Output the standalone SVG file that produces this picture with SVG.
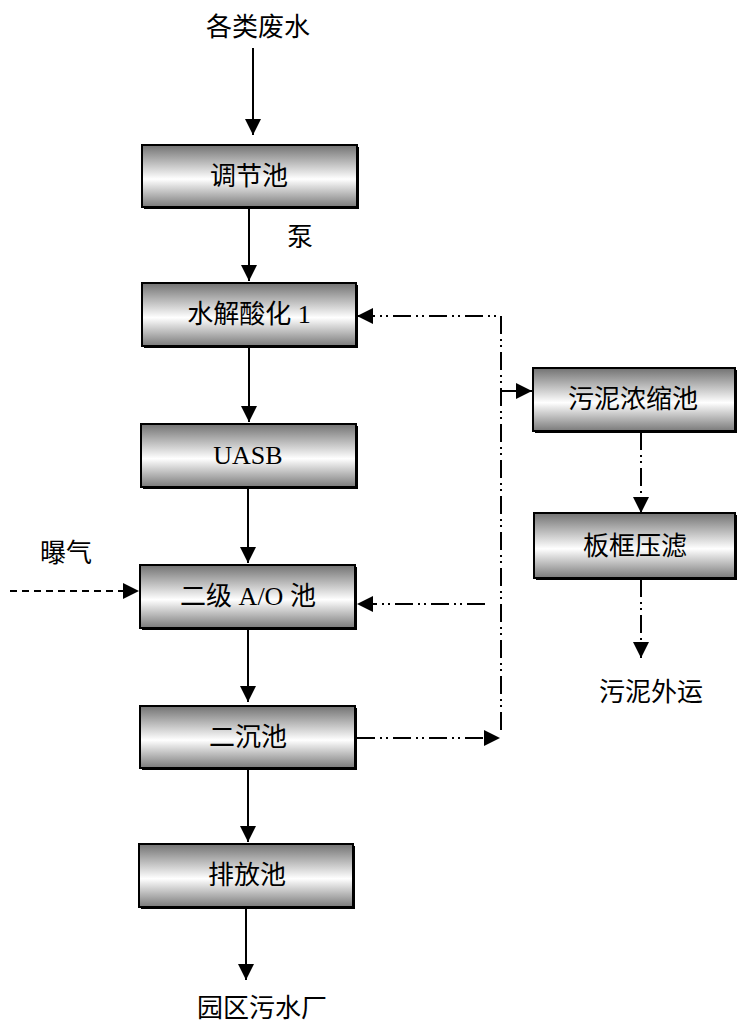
<svg xmlns="http://www.w3.org/2000/svg" width="737" height="1026" viewBox="0 0 737 1026">
<style>
.box{fill:url(#g);stroke:#000;stroke-width:2}
.sh{fill:#000}
.t{font-family:"Liberation Serif","Noto Sans CJK SC",serif;font-size:26px;fill:#000;text-anchor:middle;dominant-baseline:central}
.ln{stroke:#000;stroke-width:2;fill:none}
.dd{stroke:#000;stroke-width:2;fill:none;stroke-dasharray:18 5 2 4 2 5}
.da{stroke:#000;stroke-width:2;fill:none;stroke-dasharray:7 5}
</style>
<defs>
<linearGradient id="g" x1="0" y1="0" x2="0" y2="1">
<stop offset="0" stop-color="#727272"/>
<stop offset="0.55" stop-color="#ffffff"/>
<stop offset="1" stop-color="#7a7a7a"/>
</linearGradient>
<marker id="a" markerUnits="userSpaceOnUse" markerWidth="16" markerHeight="16" viewBox="0 0 16 16" refX="16" refY="8" orient="auto">
<path d="M0,0 L16,8 L0,16 z" fill="#000"/>
</marker>
</defs>

<g id="n-src"><text class="t" x="258" y="27">各类废水</text></g>
<g id="n-tjc"><rect class="sh" x="144" y="147" width="215" height="62"/><rect class="box" x="142" y="145" width="215" height="62"/><text class="t" x="249" y="176">调节池</text></g>
<g id="n-pump"><text class="t" x="300" y="237">泵</text></g>
<g id="n-sj"><rect class="sh" x="144" y="285" width="214" height="63"/><rect class="box" x="142" y="283" width="214" height="63"/><text class="t" x="249" y="314">水解酸化 1</text></g>
<g id="n-uasb"><rect class="sh" x="143" y="426" width="215" height="63"/><rect class="box" x="141" y="424" width="215" height="63"/><text class="t" x="248" y="455">UASB</text></g>
<g id="n-pq"><text class="t" x="66" y="553">曝气</text></g>
<g id="n-ao"><rect class="sh" x="142" y="567" width="215" height="63"/><rect class="box" x="140" y="565" width="215" height="63"/><text class="t" x="248" y="596">二级 A/O 池</text></g>
<g id="n-ecc"><rect class="sh" x="142" y="708" width="215" height="62"/><rect class="box" x="140" y="706" width="215" height="62"/><text class="t" x="248" y="737">二沉池</text></g>
<g id="n-pfc"><rect class="sh" x="141" y="846" width="214" height="63"/><rect class="box" x="139" y="844" width="214" height="63"/><text class="t" x="247" y="875">排放池</text></g>
<g id="n-out"><text class="t" x="262" y="1008">园区污水厂</text></g>
<g id="n-nsc"><rect class="sh" x="535" y="370" width="202" height="63"/><rect class="box" x="533" y="368" width="202" height="63"/><text class="t" x="633" y="399">污泥浓缩池</text></g>
<g id="n-bk"><rect class="sh" x="536" y="515" width="201" height="65"/><rect class="box" x="534" y="513" width="201" height="65"/><text class="t" x="635" y="546">板框压滤</text></g>
<g id="n-wy"><text class="t" x="651" y="692">污泥外运</text></g>

<g id="connectors">
<path class="ln" d="M253,48 V135" marker-end="url(#a)"/>
<path class="ln" d="M249,208 V281" marker-end="url(#a)"/>
<path class="ln" d="M249,347 V422" marker-end="url(#a)"/>
<path class="ln" d="M248,488 V563" marker-end="url(#a)"/>
<path class="ln" d="M248,629 V702" marker-end="url(#a)"/>
<path class="ln" d="M246,908 V980" marker-end="url(#a)"/>
<path class="ln" d="M248,769 V842" marker-end="url(#a)"/>
<path class="da" d="M10,591 H139" marker-end="url(#a)"/>
<path class="dd" d="M501,730 V316 H357" marker-end="url(#a)"/>
<path class="ln" d="M501,391 H532" marker-end="url(#a)"/>
<path class="dd" d="M485,604 H357" marker-end="url(#a)"/>
<path class="dd" d="M357,738 H500" marker-end="url(#a)"/>
<path class="dd" d="M641,432 V513" marker-end="url(#a)"/>
<path class="dd" d="M641,579 V658" marker-end="url(#a)"/>
</g>
</svg>
